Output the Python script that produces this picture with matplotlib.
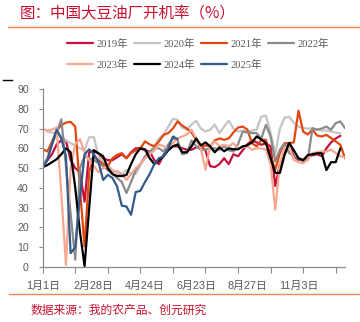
import matplotlib
matplotlib.use('Agg')
import matplotlib.pyplot as plt
import numpy as np
from matplotlib.lines import Line2D
from matplotlib.font_manager import FontProperties

# ---------------- data ----------------
tick_labels = ["1月1日", "2月28日", "4月24日", "6月23日", "8月27日", "11月3日"]
label_every = 11
tick_every = 7
n_cats = 66

years = ["2019年", "2020年", "2021年", "2022年", "2023年", "2024年", "2025年"]

y2019 = [51, 54, 57, 62, 64, 64, 54, 50, 48, 33, 58, 59, 57, 55, 54, 54, 55.5, 57, 55, 58,
         60, 60, 59, 58.4, 54, 52, 56.7, 60, 61, 61, 60, 59.3, 59.3, 60.5, 61, 59, 51, 50.5, 52, 55,
         52, 57, 56, 59, 62, 64, 63, 61.8, 62.5, 61, 41, 52, 58, 62.6, 56, 54.2, 54.2, 55.5, 56.5, 57,
         56, 60, 63, 65, 66.3]
y2020 = [70, 68.5, 68, 67.7, 66, 64, 62.6, 61.5, 60, 59, 65.6, 65.6, 56, 53, 51.7, 49, 47.5, 46.6, 49, 47,
         47, 51.7, 55, 58, 61, 65, 67, 71, 75, 74.4, 70.5, 69.4, 72, 74, 70, 68.5, 69.4, 72, 67.7, 71,
         74, 70, 68.5, 69, 68.5, 69, 69.4, 76, 76.5, 68, 57, 70, 75.5, 76, 73, 71, 70.2, 70, 70, 69.5,
         69, 69, 68.5, 68, 67.5]
y2021 = [59.6, 58.4, 63.3, 69, 71.7, 73, 73.4, 70.9, 40, 10.4, 48, 56, 54, 52, 51, 55, 56.7, 57.6, 55, 57.6,
         59, 60, 63.5, 62, 61, 63.5, 66.8, 67.7, 70, 73.6, 71.5, 70, 68, 64.3, 60.5, 61.5, 61, 64, 65, 64.3,
         65, 68, 70.5, 71, 69.5, 62.6, 61, 64.3, 64.3, 56, 49.2, 57.6, 62.6, 62.6, 63, 79, 68.5, 67, 69.4, 66.5,
         66, 66.8, 65.2, 63.5, 61.8, 55]
y2022 = [51, 55, 62, 68, 74.7, 51, 27, 3.7, 50, 56, 55, 54, 52.5, 51, 49, 47, 45, 43, 37.4, 43,
         49, 52, 56, 58.4, 60, 60, 58.4, 62, 65, 64, 57, 57.6, 64, 61, 59.3, 59.3, 60, 60, 59.3, 61,
         59, 58.4, 62, 68.5, 68, 67.7, 67.7, 65, 71.9, 66, 53.4, 59.3, 62.6, 57.6, 56, 55, 53.4, 54.2, 70.2, 69.4,
         70, 71, 69.4, 72.7, 73.6, 70.2]
y2023 = [69.7, 69, 69.5, 70.5, 37, 1, 50, 62, 64.6, 58, 54, 51, 48, 50, 51, 48, 48.5, 47, 44, 47,
         50, 52, 55, 57, 59, 62, 61, 60, 62.6, 65, 66, 67, 69.4, 65, 60, 49.2, 61, 63.5, 61, 61.8,
         61, 62.6, 60, 60.5, 61, 59.3, 60, 60, 59.3, 52, 29, 52.5, 60, 61, 54.2, 53, 52.5, 54.2, 57.6, 58,
         58.4, 58.4, 59.3, 57.6, 56, 55.5]
y2024 = [50.5, 51.5, 53, 54.5, 57, 60, 58, 40, 18, 0.5, 30, 59, 57.5, 56, 50, 47, 46, 46, 46.5, 52,
         57, 60, 59.5, 55, 52, 54, 56, 59, 61, 62, 58, 58, 61, 65, 61.5, 63, 61, 58, 60.5, 58.5,
         60, 59.5, 59.5, 61, 61.5, 63, 66, 64.5, 62.6, 55, 47.6, 47.6, 56.6, 62.8, 59, 55, 54, 56.6, 57, 57.5,
         57.5, 49, 53, 53, 60]
y2025 = [50.5, 54, 62, 69.4, 65, 56, 7, 10, 35, 57, 59.5, 57, 53, 44, 46.6, 45, 40.7, 31, 30.6, 26.4,
         37.9, 38.5, 43, 47, 52, 55, 56, 60, 66, 64.6]

series = [y2019, y2020, y2021, y2022, y2023, y2024, y2025]
colors = ['#C2103F', '#C4C4C4', '#E2470F', '#8A8A8A', '#F7A690', '#000000', '#335A8A']

# ---------------- figure ----------------
W, H = 360, 322
fig = plt.figure(figsize=(W / 100, H / 100), dpi=100)
ax = fig.add_axes([42.7 / W, 1 - 267 / H, (345 - 42.7) / W, (267 - 89) / H])

handles = []
for name, vals, col in zip(years, series, colors):
    h, = ax.plot(np.arange(len(vals)), vals, color=col, lw=1.6, label=name,
                 solid_joinstyle='round', solid_capstyle='round')
    handles.append(h)

ax.set_xlim(0, n_cats - 1)
ax.set_ylim(0, 90)
ax.set_yticks(np.arange(0, 91, 10))

for s in ['top', 'right']:
    ax.spines[s].set_visible(False)
for s in ['left', 'bottom']:
    ax.spines[s].set_color('#8C8C8C')
    ax.spines[s].set_linewidth(0.9)

sans = ['Liberation Sans', 'Noto Sans CJK SC']
ax.tick_params(axis='y', length=3, width=0.8, color='#8C8C8C', labelcolor='#595959',
               labelsize=7.6, pad=7)
for lab in ax.get_yticklabels():
    lab.set_family(sans)

label_pos = [i * label_every for i in range(len(tick_labels))]
ax.set_xticks(label_pos)
ax.set_xticklabels(tick_labels)
ax.set_xticks(np.arange(0, n_cats, tick_every), minor=True)
ax.xaxis.remove_overlapping_locs = False
ax.tick_params(axis='x', which='major', length=0, labelcolor='#595959', labelsize=7.8, pad=10)
ax.tick_params(axis='x', which='minor', length=4, width=0.8, color='#8C8C8C')
for lab in ax.get_xticklabels():
    lab.set_family(sans)

# legend: row-major order achieved by reordering for column-major fill
order = [0, 4, 1, 5, 2, 6, 3]
fig.legend([handles[i] for i in order], [years[i] for i in order], ncol=4,
           loc='upper left', bbox_to_anchor=(67 / W, 1 - 39 / H), frameon=False,
           prop=FontProperties(family=['Liberation Serif', 'Noto Sans CJK SC'], size=7.6),
           labelcolor='#595959', handlelength=2.5, handletextpad=0.3, columnspacing=0.55,
           labelspacing=1.0, borderpad=0, borderaxespad=0)

# title, rules and source
fig.text(20 / W, 1 - 14 / H, '图：中国大豆油厂开机率（%）', color='#C8102E', fontsize=11.2,
         family=['Noto Sans CJK SC', 'DejaVu Sans'], va='center', ha='left')
fig.add_artist(Line2D([8 / W, 1], [1 - 27 / H, 1 - 27 / H], color='#EE8A4C', lw=1.0))
fig.add_artist(Line2D([9 / W, 1], [1 - 294 / H, 1 - 294 / H], color='#EE8A4C', lw=1.0))
fig.add_artist(Line2D([3 / W, 12 / W], [1 - 80 / H, 1 - 80 / H], color='#000000', lw=1.0))
fig.text(31 / W, 1 - 310 / H, '数据来源：我的农产品、创元研究', color='#C8102E', fontsize=8.5,
         family=['Noto Sans CJK SC', 'DejaVu Sans'], va='center', ha='left')

fig.savefig('out.png', dpi=100)
